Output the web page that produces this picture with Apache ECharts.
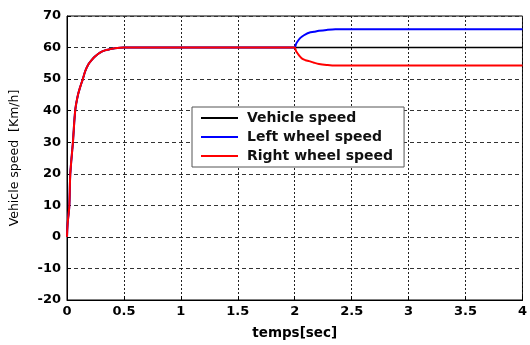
<!DOCTYPE html>
<html><head><meta charset="utf-8">
<script src="https://cdn.jsdelivr.net/npm/echarts@6/dist/echarts.min.js"></script>
<style>html,body{margin:0;padding:0;background:#fff}#c{width:530px;height:345px}</style>
</head><body><div id="c"></div>
<script>
const timeSec = [0, 0.006, 0.02, 0.029, 0.052, 0.072, 0.095, 0.12, 0.139, 0.16, 0.188, 0.22, 0.246, 0.29, 0.333, 0.38, 0.42, 0.5, 1.0, 1.5, 2.0, 2.01, 2.024, 2.045, 2.068, 2.095, 2.126, 2.17, 2.213, 2.28, 2.357, 2.5, 3.0, 3.5, 4.0];
const vehicleSpeed = [0, 4.5, 9.6, 20, 30, 40, 44.8, 48, 50, 52.5, 54.7, 56.2, 57.2, 58.4, 59.1, 59.5, 59.8, 60, 60, 60, 60, 60, 60, 60, 60, 60, 60, 60, 60, 60, 60, 60, 60, 60, 60];
const leftWheelSpeed = [0, 4.5, 9.6, 20, 30, 40, 44.8, 48, 50, 52.5, 54.7, 56.2, 57.2, 58.4, 59.1, 59.5, 59.8, 60, 60, 60, 60, 61, 61.9, 62.9, 63.6, 64.2, 64.7, 65.0, 65.3, 65.6, 65.8, 65.8, 65.8, 65.8, 65.8];
const rightWheelSpeed = [0, 4.5, 9.6, 20, 30, 40, 44.8, 48, 50, 52.5, 54.7, 56.2, 57.2, 58.4, 59.1, 59.5, 59.8, 60, 60, 60, 60, 59.0, 58.2, 57.2, 56.4, 56.0, 55.7, 55.2, 54.8, 54.5, 54.3, 54.3, 54.3, 54.3, 54.3];
const seriesNames = ['Vehicle speed', 'Left wheel speed', 'Right wheel speed'];
const xTitle = 'temps[sec]';
const yTitle = 'Vehicle speed  [Km/h]';

const pairs = arr => timeSec.map((t, i) => [t, arr[i]]);
const chart = echarts.init(document.getElementById('c'), null, {renderer: 'canvas'});
const font = '"DejaVu Sans", Arial, sans-serif';
chart.setOption({
  animation: false,
  backgroundColor: '#fff',
  grid: {left: 65, right: 4, top: 16, bottom: 39, show: true, borderColor: '#000', borderWidth: 1},
  legend: {
    left: 192, top: 107, orient: 'vertical', itemGap: 5,
    itemWidth: 37, itemHeight: 2,
    backgroundColor: '#fff', borderColor: '#555', borderWidth: 1,
    padding: [4, 11, 4, 9],
    icon: 'rect',
    textStyle: {fontFamily: font, fontWeight: 'bold', fontSize: 14, lineHeight: 14, color: '#111', padding: [0, 0, 0, 4]},
    data: seriesNames
  },
  xAxis: {
    type: 'value', min: 0, max: 4, interval: 0.5,
    name: xTitle, nameLocation: 'middle', nameGap: 26,
    nameTextStyle: {fontFamily: font, fontWeight: 'bold', fontSize: 13.5, color: '#000'},
    axisLine: {show: true, onZero: false, lineStyle: {color: '#000'}},
    axisTick: {show: true, inside: true, length: 4, lineStyle: {color: '#000'}},
    axisLabel: {fontFamily: font, fontWeight: 'bold', fontSize: 13, color: '#000', margin: 5,
      formatter: v => String(v)},
    splitLine: {show: true, lineStyle: {color: '#222', type: [2, 2], width: 1}}
  },
  yAxis: {
    type: 'value', min: -20, max: 70, interval: 10,
    name: yTitle, nameLocation: 'middle', nameGap: 46, nameRotate: 90,
    nameTextStyle: {fontFamily: font, fontSize: 12.5, color: '#000'},
    axisLine: {show: true, onZero: false, lineStyle: {color: '#000'}},
    axisTick: {show: true, inside: true, length: 4, lineStyle: {color: '#000'}},
    axisLabel: {fontFamily: font, fontWeight: 'bold', fontSize: 13, color: '#000', margin: 6},
    splitLine: {show: true, lineStyle: {color: '#333', type: [4, 3], width: 1}}
  },
  series: [
    {name: seriesNames[0], type: 'line', data: pairs(vehicleSpeed), showSymbol: false, smooth: 0.3,
      lineStyle: {color: '#000', width: 1.5}, itemStyle: {color: '#000'}},
    {name: seriesNames[1], type: 'line', data: pairs(leftWheelSpeed), showSymbol: false, smooth: 0.3,
      lineStyle: {color: '#0000ff', width: 2}, itemStyle: {color: '#0000ff'}},
    {name: seriesNames[2], type: 'line', data: pairs(rightWheelSpeed), showSymbol: false, smooth: 0.3,
      lineStyle: {color: '#ff0000', width: 2}, itemStyle: {color: '#ff0000'}}
  ]
});
</script></body></html>
